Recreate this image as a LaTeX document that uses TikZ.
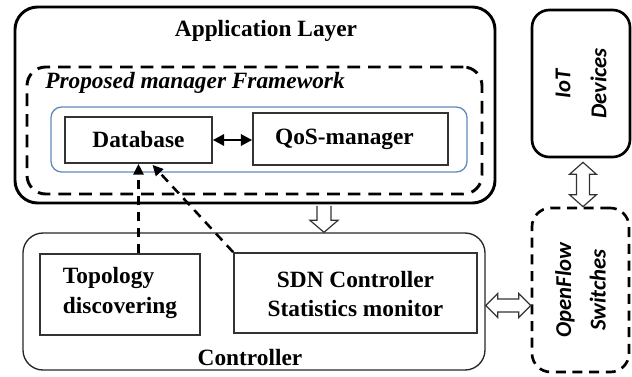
\documentclass[tikz,border=0pt]{standalone}
\usepackage{fontspec}
\setmainfont{Liberation Serif}
\newfontfamily\calfont{Carlito}
\usetikzlibrary{fit,calc,arrows.meta}
\definecolor{boxblue}{RGB}{95,140,190}
\begin{document}
\begin{tikzpicture}[x=0.75pt,y=-0.75pt,
  lbl/.style={font=\fontsize{17.5}{21}\selectfont\bfseries, inner sep=0, align=center},
  applayer/.style={draw, line width=2.2pt, rounded corners=17pt, inner sep=0},
  fwbox/.style={draw, line width=2.2pt, dash pattern=on 9.5pt off 6pt, rounded corners=14pt, inner sep=0},
  bluebox/.style={draw=boxblue, line width=1pt, rounded corners=8pt, inner sep=0},
  modbox/.style={draw=black!80, line width=1.3pt, inner sep=0},
  ctrlbox/.style={draw=black!85, line width=1pt, rounded corners=15pt, inner sep=0},
  iotbox/.style={draw, line width=2pt, rounded corners=13pt, inner sep=0},
  ofbox/.style={draw, line width=2pt, dash pattern=on 7.5pt off 5pt, rounded corners=14pt, inner sep=0},
  sidetext/.style={font=\calfont\fontsize{17}{27}\selectfont\bfseries\itshape, rotate=90, align=center, inner sep=0},
  dasharrow/.style={line width=1.9pt, dash pattern=on 7pt off 5pt, -{Triangle[length=8pt,width=7.5pt]}},
  solidarrow/.style={line width=1.8pt, {Triangle[length=8.5pt,width=8.5pt]}-{Triangle[length=8.5pt,width=8.5pt]}},
  hollow/.style={draw=black!80, line width=0.9pt, fill=white, line join=miter}
]
\useasboundingbox (0,0) rectangle (632,376);

% boxes
\node[applayer, fit={(15,7)(495,203)}] (app) {};
\node[fwbox, fit={(27,67)(482,194)}] (fw) {};
\node[bluebox, fit={(51,107)(467,172)}] (blue) {};
\node[modbox, fit={(65,117)(212,163)}] (db) {};
\node[modbox, fit={(253,113)(448,165)}] (qos) {};
\node[iotbox, fit={(532,10)(630,157)}] (iot) {};
\node[ofbox, fit={(532,208)(629,372)}] (of) {};
\node[ctrlbox, fit={(23,233)(485,370)}] (ctrl) {};
\node[modbox, fit={(40,254)(200,335)}] (topo) {};
\node[modbox, fit={(234,253)(477,333)}] (sdn) {};

% texts
\node[lbl] (applbl) at (266,31) {Application Layer};
\node[lbl, font=\fontsize{17.5}{21}\selectfont\bfseries\itshape, anchor=west] (fwlbl) at (45,83) {Proposed manager Framework};
\node[lbl] (dblbl) at (db.center) {Database};
\node[lbl] (qoslbl) at ($(qos.center)+(-6,0)$) {QoS-manager};
\node[lbl, align=left, font=\fontsize{17.5}{22.5}\selectfont\bfseries] (topolbl) at ($(topo.center)+(0,-2)$) {Topology\\discovering};
\node[lbl, font=\fontsize{17.5}{21.5}\selectfont\bfseries] (sdnlbl) at ($(sdn.center)+(0,1)$) {SDN Controller\\Statistics monitor};
\node[lbl] (ctrllbl) at (250,358) {Controller};
\node[sidetext] (iotlbl) at (iot.center) {IoT\\Devices};
\node[sidetext, font=\calfont\fontsize{17}{26}\selectfont\bfseries\itshape] (oflbl) at (of.center) {OpenFlow\\Switches};

% solid double arrow
\draw[solidarrow] (db.east) -- (qos.west |- db.east);

% dashed arrows
\draw[dasharrow] (db.south |- topo.north) -- (db.south);
\draw[dasharrow] (sdn.north west) -- ($(db.south)+(14,1)$);

% hollow arrow: application layer -> controller
\coordinate (d1) at ($(app.south)+(69,1.5)$);
\coordinate (d2) at (d1 |- ctrl.north);
\path[hollow] ($(d1)+(-7,0)$) -- ($(d2)+(-7,-12)$) -- ($(d2)+(-14,-12)$) -- (d2)
  -- ($(d2)+(14,-12)$) -- ($(d2)+(7,-12)$) -- ($(d1)+(7,0)$);

% hollow double arrow: IoT <-> OpenFlow
\coordinate (v1) at ($(iot.south)+(2,4)$);
\coordinate (v2) at (v1 |- of.north);
\path[hollow] ($(v1)+(-6.5,12)$) -- ($(v1)+(-13.5,12)$) -- (v1) -- ($(v1)+(13.5,12)$) -- ($(v1)+(6.5,12)$)
  -- ($(v2)+(6.5,-12)$) -- ($(v2)+(13.5,-12)$) -- (v2) -- ($(v2)+(-13.5,-12)$) -- ($(v2)+(-6.5,-12)$) -- cycle;

% hollow double arrow: Controller <-> OpenFlow
\coordinate (h1) at ($(ctrl.east)+(0,4)$);
\coordinate (h2) at (of.west |- h1);
\path[hollow] ($(h1)+(12,-6.5)$) -- ($(h1)+(12,-12)$) -- (h1) -- ($(h1)+(12,12)$) -- ($(h1)+(12,6.5)$)
  -- ($(h2)+(-12,6.5)$) -- ($(h2)+(-12,12)$) -- (h2) -- ($(h2)+(-12,-12)$) -- ($(h2)+(-12,-6.5)$) -- cycle;
\end{tikzpicture}
\end{document}
